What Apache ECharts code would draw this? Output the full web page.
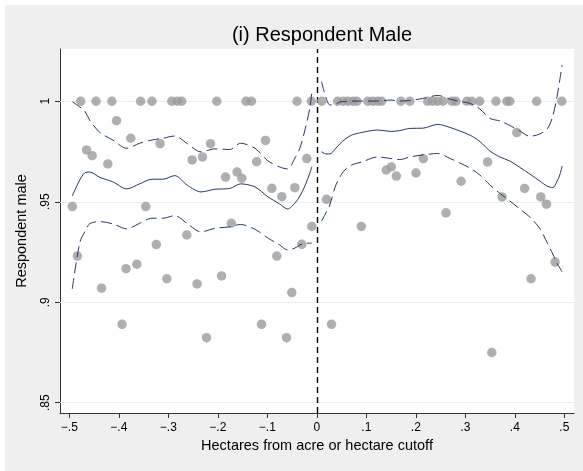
<!DOCTYPE html>
<html><head><meta charset="utf-8">
<script src="https://cdn.jsdelivr.net/npm/echarts@6/dist/echarts.min.js"></script>
<style>html,body{margin:0;padding:0;background:#fff}#c{width:583px;height:471px}</style>
</head><body><div id="c"></div>
<script>
// ---- tick values ----
const xTicks = [-0.5, -0.4, -0.3, -0.2, -0.1, 0, 0.1, 0.2, 0.3, 0.4, 0.5];
const yTicks = [0.85, 0.9, 0.95, 1];

// ---- bin-mean scatter points ----
const binX = [
  -0.477, -0.446, -0.414, -0.356, -0.333, -0.293, -0.282, -0.273, -0.202, -0.143, -0.132, -0.040, -0.011,
  0.010, 0.042, 0.053, 0.063, 0.073, 0.081, 0.103, 0.113, 0.123, 0.131, 0.170, 0.188, 0.224, 0.234, 0.244,
  0.255, 0.273, 0.281, 0.303, 0.313, 0.329, 0.362, 0.384, 0.390, 0.444, 0.495,
  -0.4939, -0.4838, -0.4653, -0.4539, -0.4349, -0.4222, -0.4046, -0.3933, -0.3853, -0.3758,
  -0.3636, -0.3455, -0.3242, -0.3166, -0.3030, -0.2626, -0.2519, -0.2418, -0.2309, -0.2228,
  -0.2147, -0.1925, -0.1844, -0.1727, -0.1610, -0.1515, -0.1216, -0.1117, -0.1036, -0.0909,
  -0.0808, -0.0707, -0.0612, -0.0505, -0.0444, -0.0303, -0.0202, -0.0101,
  0.0196, 0.0297, 0.0899, 0.1404, 0.1505, 0.1606, 0.2004, 0.2152, 0.2610, 0.2915,
  0.3451, 0.3535, 0.3743, 0.4040, 0.4198, 0.4329, 0.4525, 0.4640, 0.4814
];
const binY = [
  1, 1, 1, 1, 1, 1, 1, 1, 1, 1, 1, 1, 1,
  1, 1, 1, 1, 1, 1, 1, 1, 1, 1, 1, 1, 1, 1, 1,
  1, 1, 1, 1, 1, 1, 1, 1, 1, 1, 1,
  0.9476, 0.9230, 0.9758, 0.9729, 0.9070, 0.9688, 0.9903, 0.8890, 0.9167, 0.9816,
  0.9189, 0.9476, 0.9287, 0.9789, 0.9117, 0.9335, 0.9708, 0.9091, 0.9723, 0.8824,
  0.9789, 0.9131, 0.9623, 0.9393, 0.9648, 0.9617, 0.9699, 0.8890, 0.9805, 0.9567,
  0.9230, 0.9525, 0.8824, 0.9048, 0.9570, 0.9288, 0.9715, 0.9377,
  0.9512, 0.8890, 0.9377, 0.9658, 0.9673, 0.9628, 0.9643, 0.9715, 0.9445, 0.9602,
  0.9698, 0.8750, 0.9524, 0.9844, 0.9566, 0.9117, 0.9524, 0.9488, 0.9200
];

// ---- local fit, left of cutoff ----
const leftX = [-0.494, -0.479, -0.469, -0.459, -0.438, -0.412, -0.384, -0.358, -0.333, -0.311, -0.287, -0.261, -0.234,
  -0.206, -0.176, -0.154, -0.125, -0.099, -0.075, -0.059, -0.044, -0.034, -0.024, -0.014, -0.010];
const leftFit = [0.9529, 0.9608, 0.9643, 0.9648, 0.9621, 0.9599, 0.9564, 0.9589, 0.9612, 0.9612, 0.9630, 0.9581, 0.9549,
  0.9562, 0.9566, 0.9589, 0.9574, 0.9525, 0.9489, 0.9464, 0.9494, 0.9529, 0.9579, 0.9643, 0.9675];
const leftUpper = [0.9998, 0.9972, 0.9952, 0.9907, 0.9844, 0.9807, 0.9766, 0.9791, 0.9807, 0.9816, 0.9827, 0.9788, 0.9748,
  0.9763, 0.9760, 0.9791, 0.9766, 0.9704, 0.9673, 0.9663, 0.9718, 0.9768, 0.9857, 0.9967, 1.0048];
const leftLower = [0.9066, 0.9295, 0.9350, 0.9390, 0.9401, 0.9390, 0.9365, 0.9393, 0.9418, 0.9418, 0.9431, 0.9390, 0.9350,
  0.9368, 0.9375, 0.9387, 0.9363, 0.9320, 0.9285, 0.9260, 0.9270, 0.9285, 0.9293, 0.9294, 0.9294];

// ---- local fit, right of cutoff ----
const rightX = [0.0095, 0.0182, 0.0263, 0.0364, 0.0465, 0.0566, 0.0707, 0.0909, 0.1232, 0.1495, 0.1677, 0.1879, 0.2141,
  0.2444, 0.2687, 0.2889, 0.3091, 0.3293, 0.3495, 0.3697, 0.3899, 0.4101, 0.4303, 0.4505, 0.4667, 0.4768, 0.4848, 0.4909, 0.4956];
const rightFit = [0.9749, 0.9738, 0.9738, 0.9760, 0.9788, 0.9810, 0.9832, 0.9845, 0.9857, 0.9850, 0.9854, 0.9865, 0.9866,
  0.9885, 0.9870, 0.9852, 0.9832, 0.9800, 0.9753, 0.9723, 0.9703, 0.9671, 0.9638, 0.9603, 0.9576, 0.9571, 0.9599, 0.9633, 0.9678];
const rightUpper = [1.0098, 1.0021, 0.9982, 0.9983, 0.9997, 0.9999, 1.0001, 1.0001, 1.0001, 1.0006, 1.0001, 1.0004, 1.0014,
  1.0029, 1.0011, 0.9999, 0.9990, 0.9962, 0.9915, 0.9902, 0.9880, 0.9852, 0.9826, 0.9837, 0.9867, 0.9927, 1.0016, 1.0106, 1.0181];
const rightLower = [0.9404, 0.9444, 0.9484, 0.9569, 0.9623, 0.9658, 0.9683, 0.9698, 0.9723, 0.9715, 0.9710, 0.9723, 0.9733,
  0.9740, 0.9716, 0.9693, 0.9668, 0.9633, 0.9584, 0.9542, 0.9504, 0.9464, 0.9424, 0.9367, 0.9290, 0.9240, 0.9196, 0.9171, 0.9151];

const FONT = "'Liberation Sans', Arial, Helvetica, sans-serif";
const LINE = '#26376a';
const zip = (xs, ys) => xs.map((x, i) => [x, ys[i]]);
const fmt = v => {
  if (Math.abs(v) < 1e-9) return '0';
  let s = String(+v.toFixed(2));
  s = s.replace(/^(-?)0\./, '$1.');
  return s.replace('-', '\u2212');
};

function lineSeries(xs, ys, dashed) {
  return {
    type: 'line', data: zip(xs, ys), showSymbol: false, smooth: 0.3, silent: true,
    lineStyle: { color: LINE, width: 1, type: dashed ? [11, 5] : 'solid' }, z: 3
  };
}

const chart = echarts.init(document.getElementById('c'), null, { renderer: 'canvas' });
chart.setOption({
  animation: false,
  backgroundColor: '#ffffff',
  graphic: [{ type: 'rect', shape: { x: 5, y: 5, width: 578, height: 466 }, style: { fill: '#efefef' }, z: -10, silent: true }],
  title: {
    text: '(i) Respondent Male', left: 317, top: 20, textAlign: 'center',
    textStyle: { fontFamily: FONT, fontSize: 20, fontWeight: 'normal', color: '#000' }
  },
  grid: { left: 60, right: 9, top: 49, bottom: 58, show: true, backgroundColor: '#ffffff', borderWidth: 0 },
  xAxis: {
    type: 'value', min: -0.5188, max: 0.5196,
    name: 'Hectares from acre or hectare cutoff', nameLocation: 'middle', nameGap: 24,
    nameTextStyle: { fontFamily: FONT, fontSize: 14.5, color: '#000' },
    axisLine: { show: true, onZero: false, lineStyle: { color: '#333', width: 1 } },
    axisTick: { show: true, customValues: xTicks, length: 5, lineStyle: { color: '#333' } },
    axisLabel: { customValues: xTicks, formatter: fmt, fontFamily: FONT, fontSize: 12, color: '#000', margin: 9 },
    splitLine: { show: false }
  },
  yAxis: {
    type: 'value', min: 0.8449, max: 1.026,
    name: 'Respondent male', nameLocation: 'middle', nameGap: 31, nameRotate: 90,
    nameTextStyle: { fontFamily: FONT, fontSize: 14.5, color: '#000' },
    axisLine: { show: true, onZero: false, lineStyle: { color: '#333', width: 1 } },
    axisTick: { show: true, customValues: yTicks, length: 5, lineStyle: { color: '#333' } },
    axisLabel: { customValues: yTicks, formatter: fmt, rotate: 90, fontFamily: FONT, fontSize: 12, color: '#000', margin: 8 },
    splitLine: { show: false }
  },
  series: [
    {
      type: 'scatter', data: zip(binX, binY), symbol: 'circle', symbolSize: 9.5,
      itemStyle: { color: '#9b9b9b' }, silent: true, z: 2,
      markLine: {
        silent: true, symbol: 'none', label: { show: false }, animation: false,
        data: yTicks.map(v => ({ yAxis: v, lineStyle: { color: '#e6eeee', width: 1, type: 'solid' } }))
          .concat([{ xAxis: 0, lineStyle: { color: '#000', width: 1.4, type: [6, 4] } }]),
        z: 1
      }
    },
    lineSeries(leftX, leftFit, false),
    lineSeries(leftX, leftUpper, true),
    lineSeries(leftX, leftLower, true),
    lineSeries(rightX, rightFit, false),
    lineSeries(rightX, rightUpper, true),
    lineSeries(rightX, rightLower, true)
  ]
});
</script></body></html>
